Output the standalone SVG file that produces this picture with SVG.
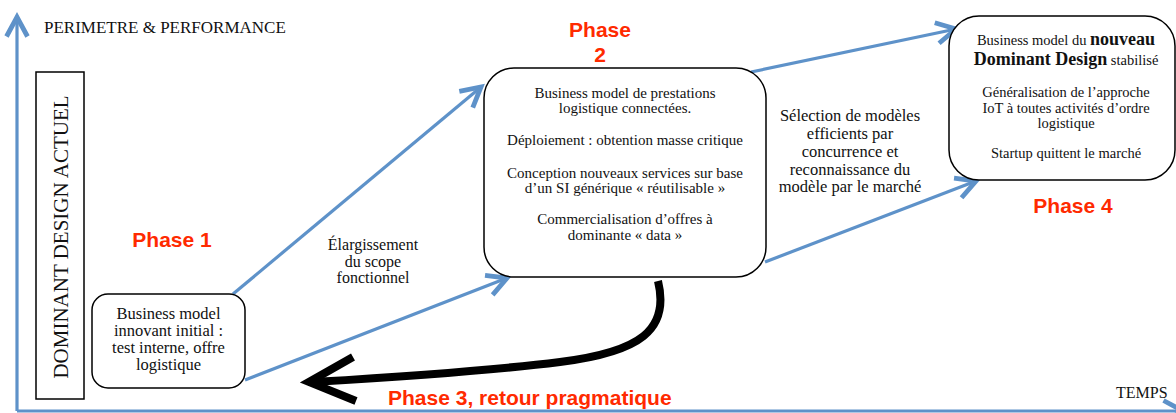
<svg xmlns="http://www.w3.org/2000/svg" width="1176" height="413" viewBox="0 0 1176 413">
  <defs>
    <marker id="bluehead" markerUnits="userSpaceOnUse" markerWidth="30" markerHeight="30" refX="0" refY="0" viewBox="-16 -10 20 20" orient="auto" overflow="visible">
      <path d="M -13 -7 L 0 0 L -13 7" fill="none" stroke="#5e92c9" stroke-width="3.2"/>
    </marker>
  </defs>
  <style>
    .box { fill: #ffffff; stroke: #000000; stroke-width: 1.5; }
    .serif { font-family: "Liberation Serif", "Times New Roman", serif; fill: #111111; }
    .phase { font-family: "Liberation Sans", Arial, sans-serif; font-weight: bold; font-size: 21px; fill: #ff2a00; }
    .blue { fill: none; stroke: #5e92c9; stroke-width: 3.2; marker-end: url(#bluehead); }
    .mid { text-anchor: middle; }
  </style>
  <rect width="1176" height="413" fill="#ffffff"/>

  <g id="axes">
    <line class="blue" x1="17" y1="411" x2="17" y2="17"/>
    <line class="blue" x1="17" y1="411" x2="1183" y2="411"/>
    <text class="serif" x="44" y="33" font-size="17">PERIMETRE &amp; PERFORMANCE</text>
    <text class="serif" x="1116" y="398" font-size="16">TEMPS</text>
  </g>

  <g id="connectors">
    <line class="blue" x1="233" y1="294" x2="481" y2="87"/>
    <line class="blue" x1="245" y1="380" x2="507" y2="278"/>
    <line class="blue" x1="751" y1="72" x2="956" y2="29"/>
    <line class="blue" x1="765" y1="262" x2="976" y2="181"/>
    <path d="M 658 281 C 670 330, 640 352, 560 362 C 480 372, 380 378, 314 382" fill="none" stroke="#000000" stroke-width="8"/>
    <path d="M 353 357 L 309 382 L 356 401" fill="none" stroke="#000000" stroke-width="8" stroke-linejoin="miter"/>
    <text class="serif mid" font-size="16"><tspan x="373" y="250">Élargissement</tspan><tspan x="373" y="267">du scope</tspan><tspan x="373" y="283">fonctionnel</tspan></text>
    <text class="serif mid" font-size="16.5"><tspan x="850" y="121">Sélection de modèles</tspan><tspan x="850" y="139">efficients par</tspan><tspan x="850" y="157">concurrence et</tspan><tspan x="850" y="174.5">reconnaissance du</tspan><tspan x="850" y="192">modèle par le marché</tspan></text>
    <text class="phase" x="388" y="405">Phase 3, retour pragmatique</text>
  </g>

  <g id="dominant-design-actuel">
    <rect x="36" y="72" width="48" height="327" fill="#ffffff" stroke="#000000" stroke-width="1.5"/>
    <text class="serif mid" font-size="21" transform="translate(68,237) rotate(-90)" x="0" y="0">DOMINANT DESIGN ACTUEL</text>
  </g>

  <g id="phase1">
    <rect class="box" x="92" y="294" width="153" height="94" rx="16"/>
    <text class="serif mid" font-size="16.5"><tspan x="168.5" y="319">Business model</tspan><tspan x="168.5" y="336">innovant initial :</tspan><tspan x="168.5" y="353">test interne, offre</tspan><tspan x="168.5" y="370">logistique</tspan></text>
    <text class="phase mid" x="172" y="247">Phase 1</text>
  </g>

  <g id="phase2">
    <rect class="box" x="484" y="68" width="282" height="209" rx="30"/>
    <text class="serif mid" font-size="15"><tspan x="625" y="98">Business model de prestations</tspan><tspan x="625" y="113">logistique connectées.</tspan><tspan x="625" y="145">Déploiement : obtention masse critique</tspan><tspan x="625" y="178">Conception nouveaux services sur base</tspan><tspan x="625" y="193">d’un SI générique « réutilisable »</tspan><tspan x="625" y="224">Commercialisation d’offres à</tspan><tspan x="625" y="240">dominante « data »</tspan></text>
    <text class="phase mid"><tspan x="600" y="37">Phase</tspan><tspan x="600" y="62">2</tspan></text>
  </g>

  <g id="phase4">
    <rect class="box" x="949" y="16" width="226" height="164" rx="30"/>
    <text class="serif mid" font-size="14.5"><tspan x="1066" y="45">Business model du <tspan font-weight="bold" font-size="18">nouveau</tspan></tspan><tspan x="1066" y="65"><tspan font-weight="bold" font-size="18">Dominant Design</tspan> stabilisé</tspan><tspan x="1066" y="97">Généralisation de l’approche</tspan><tspan x="1066" y="113">IoT à toutes activités d’ordre</tspan><tspan x="1066" y="128">logistique</tspan><tspan x="1066" y="158">Startup quittent le marché</tspan></text>
    <text class="phase mid" x="1073" y="213">Phase 4</text>
  </g>
</svg>
